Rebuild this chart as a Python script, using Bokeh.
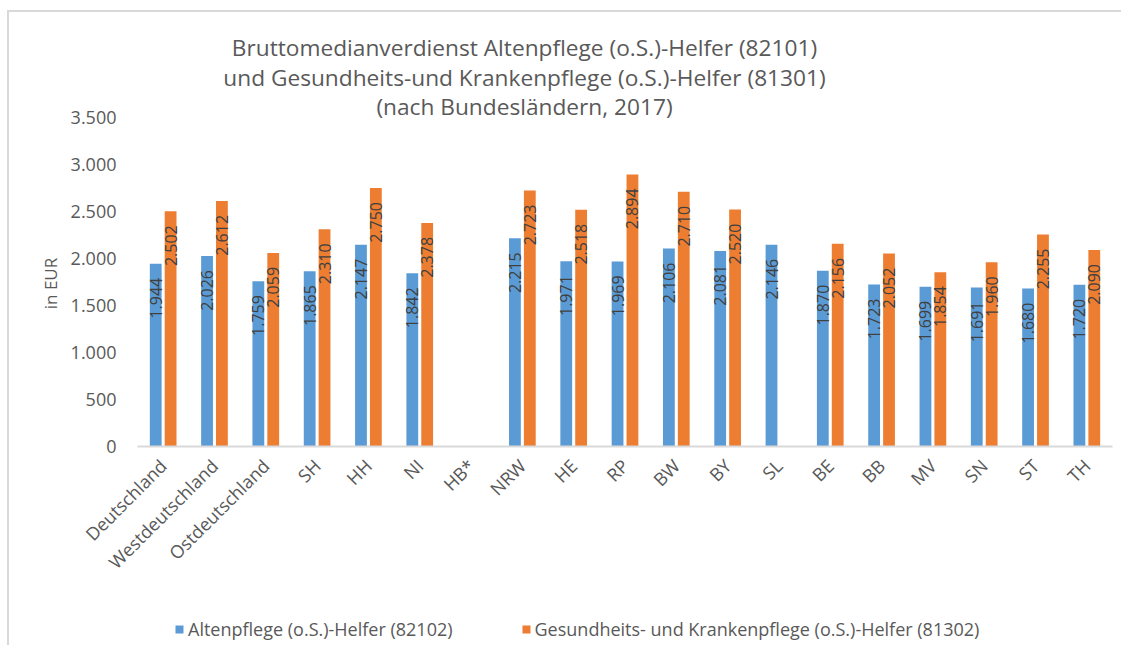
import math
from bokeh.plotting import figure
from bokeh.models import (ColumnDataSource, Range1d, FixedTicker,
                          CustomJSTickFormatter, Legend, LegendItem, Label)
from bokeh.transform import dodge
from bokeh.core.properties import value
from bokeh.embed import file_html
from bokeh.resources import INLINE

NaN = float("nan")

categories = ["Deutschland", "Westdeutschland", "Ostdeutschland", "SH", "HH", "NI",
              "HB*", "NRW", "HE", "RP", "BW", "BY", "SL", "BE", "BB", "MV", "SN",
              "ST", "TH"]
altenpflege = [1944, 2026, 1759, 1865, 2147, 1842, NaN, 2215, 1971, 1969, 2106,
               2081, 2146, 1870, 1723, 1699, 1691, 1680, 1720]
gesundheit = [2502, 2612, 2059, 2310, 2750, 2378, NaN, 2723, 2518, 2894, 2710,
              2520, NaN, 2156, 2052, 1854, 1960, 2255, 2090]
y_ticks = [0, 500, 1000, 1500, 2000, 2500, 3000, 3500]
title_lines = ["Bruttomedianverdienst Altenpflege (o.S.)-Helfer (82101)",
               "und Gesundheits-und Krankenpflege (o.S.)-Helfer (81301)",
               "(nach Bundesländern, 2017)"]
legend_labels = ["Altenpflege (o.S.)-Helfer (82102)",
                 "Gesundheits- und Krankenpflege (o.S.)-Helfer (81302)"]
y_axis_label = "in EUR"

BLUE = "#5B9BD5"
ORANGE = "#ED7D31"
GRAY = "#595959"
FONT = "Open Sans"


def fmt(v):
    if isinstance(v, float) and math.isnan(v):
        return ""
    return f"{v:,.0f}".replace(",", ".")


positions = list(range(len(categories)))
source = ColumnDataSource(data=dict(
    pos=positions,
    alten=altenpflege,
    gesund=gesundheit,
    alten_lbl=[fmt(v) for v in altenpflege],
    gesund_lbl=[fmt(v) for v in gesundheit],
))

# layout geometry (page pixels): plot area 137..1112 horizontally,
# zero line at 446, 3500 at 117; the frame covers the whole canvas
PX_PER_UNIT = 329 / 3500
PX_PER_CAT = 975 / len(categories)
PAGE_LEFT, PAGE_RIGHT = 9, 1121
PAGE_TOP, PAGE_BOTTOM = 12, 645
PLOT_LEFT, ZERO_Y = 137, 446

x_start = (PAGE_LEFT - PLOT_LEFT) / PX_PER_CAT - 0.5
x_end = (PAGE_RIGHT - PLOT_LEFT) / PX_PER_CAT - 0.5
y_start = -(PAGE_BOTTOM - ZERO_Y) / PX_PER_UNIT
y_end = (ZERO_Y - PAGE_TOP) / PX_PER_UNIT

p = figure(x_range=Range1d(x_start, x_end), y_range=Range1d(y_start, y_end),
           frame_width=PAGE_RIGHT - PAGE_LEFT, frame_height=PAGE_BOTTOM - PAGE_TOP,
           min_border_left=0, min_border_right=0, min_border_top=0,
           min_border_bottom=0,
           output_backend="svg", toolbar_location=None)
p.styles = {"border-top": "2px solid #d9d9d9", "border-left": "2px solid #d9d9d9",
            "margin-left": "7px", "margin-top": "10px"}
p.outline_line_color = None
p.xgrid.grid_line_color = None
p.ygrid.grid_line_color = None
p.background_fill_color = "white"
p.border_fill_color = "white"

off = 0.145
bw = 0.23
r1 = p.vbar(x=dodge("pos", -off), top="alten", width=bw,
            source=source, fill_color=BLUE, line_color=None)
r2 = p.vbar(x=dodge("pos", off), top="gesund", width=bw,
            source=source, fill_color=ORANGE, line_color=None)

for col, lbl, o in (("alten", "alten_lbl", -off), ("gesund", "gesund_lbl", off)):
    p.text(x=dodge("pos", o), y=col, text=lbl, source=source,
           angle=math.pi / 2, text_align="right", text_baseline="middle",
           y_offset=14, text_font=value(FONT), text_font_size="16px",
           text_color="#404040")

# category axis, drawn at the zero line
xa = p.xaxis[0]
xa.fixed_location = 0
xa.bounds = (-0.5, len(categories) - 0.5)
xa.ticker = FixedTicker(ticks=positions)
xa.major_label_overrides = {i: c for i, c in zip(positions, categories)}
xa.axis_line_color = "#d9d9d9"
xa.axis_line_width = 2
xa.major_tick_line_color = None
xa.minor_tick_line_color = None
xa.major_label_orientation = math.pi / 4
xa.major_label_text_font = FONT
xa.major_label_text_font_size = "18px"
xa.major_label_text_color = GRAY
xa.major_label_standoff = 10

# value axis, drawn at the left edge of the plot area
ya = p.yaxis[0]
ya.fixed_location = -0.5
ya.bounds = (y_ticks[0], y_ticks[-1])
ya.ticker = FixedTicker(ticks=y_ticks)
ya.formatter = CustomJSTickFormatter(
    code="return Math.round(tick).toString().replace(/\\B(?=(\\d{3})+(?!\\d))/g, '.');")
ya.axis_line_color = None
ya.major_tick_line_color = None
ya.minor_tick_line_color = None
ya.major_label_text_font = FONT
ya.major_label_text_font_size = "18px"
ya.major_label_text_color = GRAY
ya.major_label_standoff = 15

p.add_layout(Label(x=50 - PAGE_LEFT, x_units="screen",
                   y=(ZERO_Y - 283) / PX_PER_UNIT, y_units="data",
                   text=y_axis_label, angle=math.pi / 2, text_align="center",
                   text_baseline="middle", text_font=FONT,
                   text_font_size="17px", text_color=GRAY))

# title lines
title_y_px = [47, 77, 106]
for txt, ypx in zip(title_lines, title_y_px):
    p.add_layout(Label(x=524 - PAGE_LEFT, x_units="screen",
                       y=(ZERO_Y - ypx) / PX_PER_UNIT, y_units="data",
                       text=txt, text_align="center",
                       text_baseline="middle", text_font=FONT,
                       text_font_size="22.7px", text_color=GRAY))

legend = Legend(items=[LegendItem(label=legend_labels[0], renderers=[r1]),
                       LegendItem(label=legend_labels[1], renderers=[r2])],
                orientation="horizontal", location=(174 - PAGE_LEFT, 4),
                margin=0, padding=0,
                border_line_color=None, background_fill_alpha=0,
                label_text_font=FONT, label_text_font_size="18px",
                label_text_color=GRAY, glyph_width=10, glyph_height=10,
                label_standoff=4, spacing=68)
p.add_layout(legend, "center")

open("out.html", "w").write(file_html(p, INLINE))
